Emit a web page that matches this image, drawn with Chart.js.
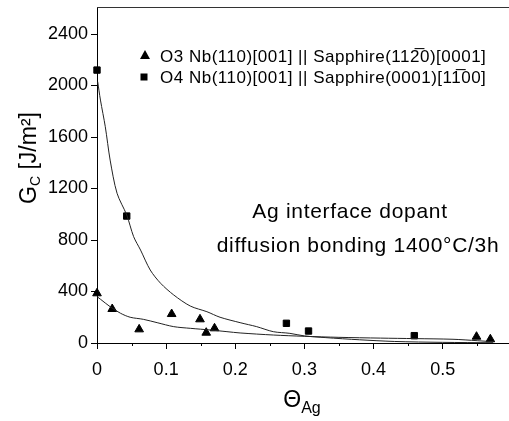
<!DOCTYPE html>
<html>
<head>
<meta charset="utf-8">
<script src="https://cdn.jsdelivr.net/npm/chart.js@4.4.0/dist/chart.umd.min.js"></script>
<style>
  body { margin: 0; background: #fff; }
  #wrap { width: 509px; height: 421px; }
</style>
</head>
<body>
<div id="wrap"><canvas id="chart" width="509" height="421"></canvas></div>
<script>
// measured points, O3 and O4 samples
var o3X = [0, 0.022, 0.061, 0.108, 0.149, 0.158, 0.170, 0.549, 0.569];
var o3Y = [386, 264, 106, 225, 184, 80, 114, 49, 29];
var o4X = [0, 0.043, 0.274, 0.306, 0.459];
var o4Y = [2120, 986, 153, 93, 57];

// fitted curves
var fitO3X = [0, 0.005, 0.019, 0.034, 0.048, 0.067, 0.087, 0.111, 0.135, 0.164, 0.188, 0.207, 0.255, 0.30, 0.35, 0.41, 0.46, 0.515, 0.55, 0.573];
var fitO3Y = [360, 340, 282, 231, 200, 184, 158, 127, 114, 101, 88, 78, 62, 52, 44, 38, 34, 29, 18, 10];
var fitO4X = [0.001, 0.005, 0.012, 0.019, 0.029, 0.043, 0.053, 0.063, 0.077, 0.092, 0.111, 0.135, 0.159, 0.178, 0.207, 0.231, 0.255, 0.279, 0.30, 0.33, 0.38, 0.43, 0.50, 0.573];
var fitO4Y = [2030, 1887, 1680, 1421, 1163, 994, 826, 722, 567, 464, 373, 287, 243, 200, 158, 127, 88, 75, 55, 42, 25, 12, 5, 2];

var xTicks = [0, 0.1, 0.2, 0.3, 0.4, 0.5];
var yTicks = [0, 400, 800, 1200, 1600, 2000, 2400];

var legendLabels = [
  "O3 Nb(110)[001] || Sapphire(112\u03050)[0001]",
  "O4 Nb(110)[001] || Sapphire(0001)[11\u030500]"
];
var noteLines = ["Ag interface dopant", "diffusion bonding 1400\u00b0C/3h"];

function pts(xs, ys) {
  return xs.map(function(x, i) { return {x: x, y: ys[i]}; });
}
var FONT = "'Liberation Sans', Arial, sans-serif";

function noPad(s) { s.paddingTop = 0; s.paddingBottom = 0; s.paddingLeft = 0; s.paddingRight = 0; }

var extras = {
  id: 'extras',
  afterDraw: function(chart) {
    var ctx = chart.ctx, a = chart.chartArea;
    var xs = chart.scales.x;
    ctx.save();
    // top frame line
    ctx.strokeStyle = '#333';
    ctx.lineWidth = 1;
    ctx.beginPath();
    ctx.moveTo(a.left, a.top + 0.5);
    ctx.lineTo(a.right, a.top + 0.5);
    ctx.stroke();
    // minor x ticks
    ctx.strokeStyle = '#000';
    for (var v = 0.05; v < xs.max; v += 0.1) {
      var px = Math.round(xs.getPixelForValue(v)) + 0.5;
      ctx.beginPath();
      ctx.moveTo(px, a.bottom);
      ctx.lineTo(px, a.bottom + 3);
      ctx.stroke();
    }
    ctx.fillStyle = '#000';
    // legend
    ctx.font = '17px ' + FONT;
    ctx.letterSpacing = '0.5px';
    ctx.textBaseline = 'middle';
    ctx.textAlign = 'left';
    ctx.beginPath();
    ctx.moveTo(145, 50); ctx.lineTo(150, 59); ctx.lineTo(140, 59); ctx.closePath();
    ctx.fill();
    ctx.fillText(legendLabels[0], 160, 57);
    ctx.fillRect(140.5, 73.5, 7, 7);
    ctx.fillText(legendLabels[1], 160, 78);
    // note
    ctx.font = '21px ' + FONT;
    ctx.letterSpacing = '0.7px';
    ctx.textAlign = 'center';
    ctx.textBaseline = 'alphabetic';
    ctx.fillText(noteLines[0], 350, 218);
    ctx.fillText(noteLines[1], 358, 252);
    ctx.letterSpacing = '0px';
    // x title: Theta_Ag
    ctx.textAlign = 'left';
    ctx.font = '23px ' + FONT;
    var wT = ctx.measureText('\u0398').width;
    ctx.font = '16px ' + FONT;
    var wA = ctx.measureText('Ag').width;
    var x0 = 302 - (wT + wA) / 2;
    ctx.font = '23px ' + FONT;
    ctx.fillText('\u0398', x0, 407);
    ctx.font = '16px ' + FONT;
    ctx.fillText('Ag', x0 + wT, 413);
    // y title: G_C [J/m^2]
    ctx.translate(36, 158);
    ctx.rotate(-Math.PI / 2);
    ctx.font = '23px ' + FONT;
    var wG = ctx.measureText('G').width;
    var wR = ctx.measureText(' [J/m\u00b2]').width;
    ctx.font = '14px ' + FONT;
    var wC = ctx.measureText('C').width;
    var s = -(wG + wC + wR) / 2;
    ctx.font = '23px ' + FONT;
    ctx.fillText('G', s, 0);
    ctx.font = '14px ' + FONT;
    ctx.fillText('C', s + wG, 4);
    ctx.font = '23px ' + FONT;
    ctx.fillText(' [J/m\u00b2]', s + wG + wC, 0);
    ctx.restore();
  }
};

new Chart(document.getElementById('chart'), {
  type: 'scatter',
  data: {
    datasets: [
      { label: 'O3 fit', data: pts(fitO3X, fitO3Y), showLine: true, borderColor: '#222', borderWidth: 1, pointRadius: 0, tension: 0.3 },
      { label: 'O4 fit', data: pts(fitO4X, fitO4Y), showLine: true, borderColor: '#222', borderWidth: 1, pointRadius: 0, tension: 0.3 },
      { label: legendLabels[0], data: pts(o3X, o3Y), pointStyle: 'triangle', pointRadius: 5, backgroundColor: '#000', borderColor: '#000', borderWidth: 1, clip: false },
      { label: legendLabels[1], data: pts(o4X, o4Y), pointStyle: 'rect', pointRadius: 4.5, backgroundColor: '#000', borderColor: '#000', borderWidth: 1, clip: false }
    ]
  },
  options: {
    responsive: false,
    animation: false,
    layout: { autoPadding: false, padding: { top: 7, right: 0, left: 0, bottom: 0 } },
    plugins: { legend: { display: false }, tooltip: { enabled: false } },
    scales: {
      x: {
        type: 'linear', min: 0, max: 0.596,
        afterBuildTicks: function(s) { s.ticks = xTicks.map(function(v) { return {value: v}; }); },
        afterFit: function(s) { s.height = 78; noPad(s); },
        grid: { drawOnChartArea: false, tickLength: 6, color: '#000' },
        border: { color: '#000', width: 1 },
        ticks: { color: '#000', padding: 10, font: { family: FONT, size: 18 },
          callback: function(v) { return v === 0 ? '0' : v.toFixed(1); } }
      },
      y: {
        type: 'linear', min: 0, max: 2610,
        afterBuildTicks: function(s) { s.ticks = yTicks.map(function(v) { return {value: v}; }); },
        afterFit: function(s) { s.width = 97; noPad(s); },
        grid: { drawOnChartArea: false, tickLength: 6, color: '#000' },
        border: { color: '#000', width: 1 },
        ticks: { color: '#000', padding: 3, font: { family: FONT, size: 18 },
          callback: function(v) { return String(v); } }
      }
    }
  },
  plugins: [extras]
});
</script>
</body>
</html>
